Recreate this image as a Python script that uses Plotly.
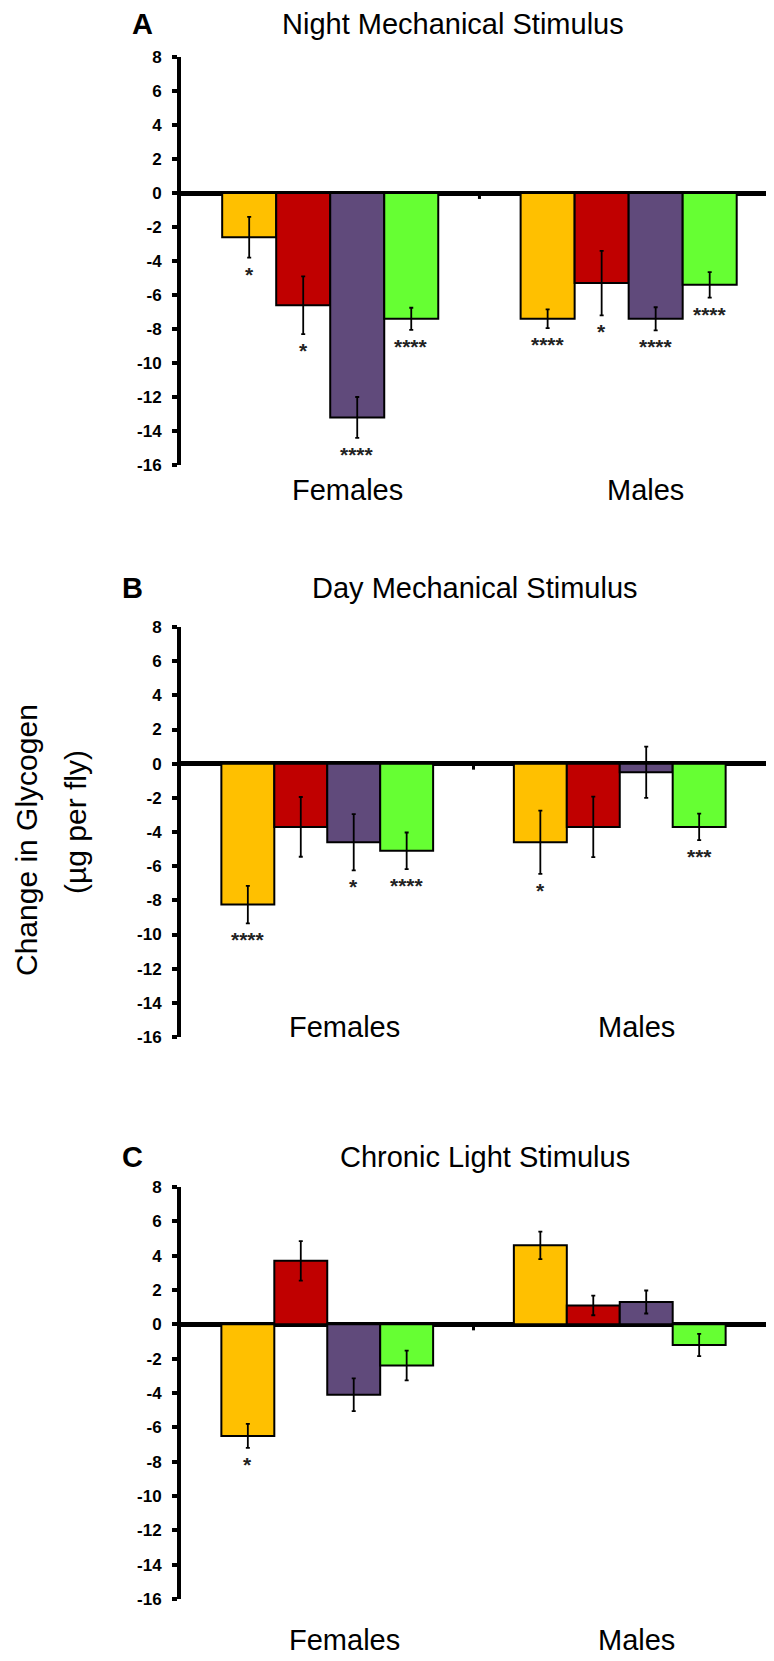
import plotly.graph_objects as go

# ---------------- data ----------------
panel_titles = ["Night Mechanical Stimulus", "Day Mechanical Stimulus", "Chronic Light Stimulus"]
panel_letters = ["A", "B", "C"]
groups = ["Females", "Males"]
series_colors = ["#FFC000", "#C00000", "#604A7B", "#66FF33"]
y_ticks = [8, 6, 4, 2, 0, -2, -4, -6, -8, -10, -12, -14, -16]

night_mean_f = [-2.6, -6.6, -13.2, -7.4]
night_mean_m = [-7.4, -5.3, -7.4, -5.4]
night_err_f = [1.2, 1.7, 1.2, 0.65]
night_err_m = [0.55, 1.9, 0.68, 0.75]
night_sig_f = ["*", "*", "****", "****"]
night_sig_m = ["****", "*", "****", "****"]

day_mean_f = [-8.25, -3.7, -4.6, -5.1]
day_mean_m = [-4.6, -3.7, -0.5, -3.7]
day_err_f = [1.1, 1.75, 1.65, 1.07]
day_err_m = [1.85, 1.77, 1.5, 0.78]
day_sig_f = ["****", "", "*", "****"]
day_sig_m = ["*", "", "", "***"]

light_mean_f = [-6.5, 3.7, -4.1, -2.4]
light_mean_m = [4.6, 1.1, 1.3, -1.2]
light_err_f = [0.7, 1.15, 0.95, 0.87]
light_err_m = [0.8, 0.57, 0.67, 0.65]
light_sig_f = ["*", "", "", ""]
light_sig_m = ["", "", "", ""]

y_title_line1 = "Change in Glycogen"
y_title_line2 = "(µg per fly)"

panels = [
    (night_mean_f, night_mean_m, night_err_f, night_err_m, night_sig_f, night_sig_m),
    (day_mean_f, day_mean_m, day_err_f, day_err_m, day_sig_f, day_sig_m),
    (light_mean_f, light_mean_m, light_err_f, light_err_m, light_sig_f, light_sig_m),
]

# ---------------- layout geometry (page pixels) ----------------
PAGE_W, PAGE_H = 774, 1661
OFF = 8  # default page body margin
W, H = PAGE_W - OFF, PAGE_H - OFF
FONT = "Liberation Sans, Arial, sans-serif"
bar_w = 0.181
# per panel: (x_left, x_right, y_top(8), y_bottom(-16), x range max)
geom = [
    (181, 774, 57, 465, 1.987),
    (181, 766, 627, 1037, 2.0),
    (181, 766, 1187, 1599, 2.0),
]
title_pos = [(453, 24), (475, 588), (485, 1157)]
letter_pos = [(142, 24), (132, 588), (132, 1157)]
group_label_y = [490, 1027, 1640]
group_label_shift = 17


def px_x(p):
    return min(max((p - OFF) / W, 0), 1)


def px_y(p):
    return min(max(1 - (p - OFF) / H, 0), 1)


fig = go.Figure()
annotations = []
shapes = []

for k, (mf, mm, ef, em, sf, sm) in enumerate(panels):
    xa = "x" if k == 0 else f"x{k+1}"
    ya = "y" if k == 0 else f"y{k+1}"
    xl, xr, yt, yb, xmax = geom[k]
    for i, col in enumerate(series_colors):
        xs = [g + 0.5 + (i - 1.5) * bar_w for g in range(len(groups))]
        vals = [mf[i], mm[i]]
        errs = [ef[i], em[i]]
        fig.add_trace(go.Bar(
            x=xs, y=vals, width=bar_w,
            marker=dict(color=col, line=dict(color="black", width=2)),
            error_y=dict(type="data", array=errs, visible=True,
                         color="black", thickness=1.8, width=2),
            xaxis=xa, yaxis=ya, showlegend=False, hoverinfo="skip",
        ))
        for g, (v, e, s) in enumerate(zip(vals, errs, [sf[i], sm[i]])):
            if s:
                annotations.append(dict(
                    x=xs[g], y=v - e, xref=xa, yref=ya, text=f"<b>{s}</b>",
                    showarrow=False, yanchor="top", xanchor="center", yshift=-3,
                    font=dict(family=FONT, size=21, color="#222222"),
                ))
    # category boundary tick on zero line
    shapes.append(dict(type="line", xref=xa, yref=ya, x0=1, x1=1, y0=0, y1=-0.35,
                       line=dict(color="black", width=3)))

    xkey = "xaxis" if k == 0 else f"xaxis{k+1}"
    ykey = "yaxis" if k == 0 else f"yaxis{k+1}"
    xmax_vis = xmax * (min(xr, OFF + W) - xl) / (xr - xl)
    fig.layout[xkey] = dict(
        domain=[px_x(xl), px_x(xr)], range=[0, xmax_vis], anchor=ya,
        showline=False, showticklabels=False, ticks="", showgrid=False, zeroline=False,
        fixedrange=True, automargin=False,
    )
    fig.layout[ykey] = dict(
        domain=[px_y(yb), px_y(yt)], range=[-16, 8], anchor=xa,
        showline=True, linewidth=4, linecolor="black",
        ticks="outside", ticklen=5, tickwidth=4, tickcolor="black",
        tickvals=y_ticks, ticktext=[str(t) for t in y_ticks],
        tickfont=dict(family=FONT, size=17, color="black", weight="bold"),
        ticklabelstandoff=7,
        showgrid=False, zeroline=True, zerolinewidth=5, zerolinecolor="black",
        fixedrange=True, automargin=False,
    )
    # titles and panel letters
    tx, ty = title_pos[k]
    annotations.append(dict(x=px_x(tx), y=px_y(ty), xref="paper", yref="paper",
                            text=panel_titles[k], showarrow=False,
                            xanchor="center", yanchor="middle",
                            font=dict(family=FONT, size=29, color="black")))
    lx, ly = letter_pos[k]
    annotations.append(dict(x=px_x(lx), y=px_y(ly), xref="paper", yref="paper",
                            text=f"<b>{panel_letters[k]}</b>", showarrow=False,
                            xanchor="center", yanchor="middle",
                            font=dict(family=FONT, size=29, color="black")))
    for g, name in enumerate(groups):
        annotations.append(dict(x=g + 0.5, y=px_y(group_label_y[k]), xref=xa, yref="paper",
                                text=name, showarrow=False, xshift=group_label_shift,
                                xanchor="center", yanchor="middle",
                                font=dict(family=FONT, size=29, color="black")))

# y axis title (two lines)
annotations.append(dict(x=px_x(26), y=px_y(840), xref="paper", yref="paper",
                        text=y_title_line1, textangle=-90, showarrow=False,
                        xanchor="center", yanchor="middle",
                        font=dict(family=FONT, size=30, color="black")))
annotations.append(dict(x=px_x(75), y=px_y(822), xref="paper", yref="paper",
                        text=y_title_line2, textangle=-90, showarrow=False,
                        xanchor="center", yanchor="middle",
                        font=dict(family=FONT, size=30, color="black")))

fig.update_layout(
    width=W, height=H, margin=dict(l=0, r=0, t=0, b=0, pad=0, autoexpand=False),
    paper_bgcolor="white", plot_bgcolor="white",
    showlegend=False, barmode="overlay",
    annotations=annotations, shapes=shapes,
)

fig.write_html("out.html")
